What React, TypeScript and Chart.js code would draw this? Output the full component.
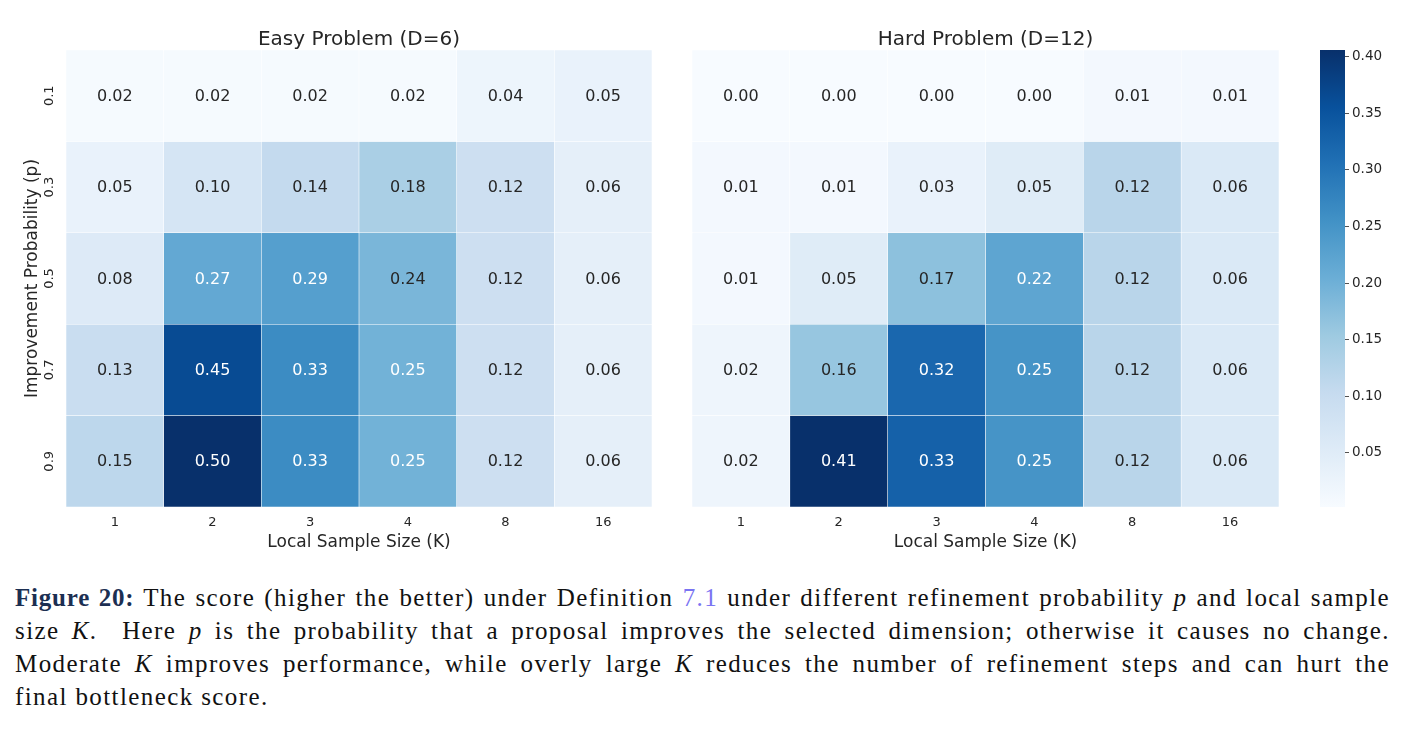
import React, { useEffect, useRef } from 'react';
import { Chart, registerables } from 'chart.js';

Chart.register(...registerables);
Chart.defaults.font.family = "'DejaVu Sans', sans-serif";

// ---------- data ----------
const kLabels = ['1', '2', '3', '4', '8', '16'];
const pLabels = ['0.1', '0.3', '0.5', '0.7', '0.9'];

const easyP01 = [0.02, 0.02, 0.02, 0.02, 0.04, 0.05];
const easyP03 = [0.05, 0.10, 0.14, 0.18, 0.12, 0.06];
const easyP05 = [0.08, 0.27, 0.29, 0.24, 0.12, 0.06];
const easyP07 = [0.13, 0.45, 0.33, 0.25, 0.12, 0.06];
const easyP09 = [0.15, 0.50, 0.33, 0.25, 0.12, 0.06];

const hardP01 = [0.00, 0.00, 0.00, 0.00, 0.01, 0.01];
const hardP03 = [0.01, 0.01, 0.03, 0.05, 0.12, 0.06];
const hardP05 = [0.01, 0.05, 0.17, 0.22, 0.12, 0.06];
const hardP07 = [0.02, 0.16, 0.32, 0.25, 0.12, 0.06];
const hardP09 = [0.02, 0.41, 0.33, 0.25, 0.12, 0.06];

const easyRange = [0.016, 0.5];
const hardRange = [0.002, 0.406];
const cbarTicks = [0.05, 0.10, 0.15, 0.20, 0.25, 0.30, 0.35, 0.40];

const easyRows = [easyP01, easyP03, easyP05, easyP07, easyP09];
const hardRows = [hardP01, hardP03, hardP05, hardP07, hardP09];

// ---------- colormap (matplotlib Blues) ----------
const BLUES = ['#f7fbff', '#deebf7', '#c6dbef', '#9ecae1', '#6baed6', '#4292c6', '#2171b5', '#08519c', '#08306b'];
const hexRgb = (h: string) => [1, 3, 5].map((i) => parseInt(h.slice(i, i + 2), 16));
function bluesRgb(t: number) {
  const tt = Math.max(0, Math.min(1, t));
  const s = tt * 8;
  const i = Math.min(7, Math.floor(s));
  const f = s - i;
  const a = hexRgb(BLUES[i]);
  const b = hexRgb(BLUES[i + 1]);
  return a.map((v, k) => Math.round(v + (b[k] - v) * f));
}
const rgbStr = (c: number[]) => `rgb(${c[0]},${c[1]},${c[2]})`;
function luminance(c: number[]) {
  const l = c.map((v) => {
    const x = v / 255;
    return x <= 0.03928 ? x / 12.92 : Math.pow((x + 0.055) / 1.055, 2.4);
  });
  return 0.2126 * l[0] + 0.7152 * l[1] + 0.0722 * l[2];
}

const TEXT = '#262626';

const cellTextPlugin = {
  id: 'cellText',
  afterDatasetsDraw(chart: any) {
    const rows: number[][] = chart.options.plugins.cellRows;
    const range: number[] = chart.options.plugins.cellRange;
    if (!rows) return;
    const ctx = chart.ctx;
    ctx.save();
    ctx.font = "16px 'DejaVu Sans'";
    ctx.textAlign = 'center';
    ctx.textBaseline = 'middle';
    rows.forEach((row, r) => {
      const meta = chart.getDatasetMeta(r);
      meta.data.forEach((el: any, c: number) => {
        const v = row[c];
        const col = bluesRgb((v - range[0]) / (range[1] - range[0]));
        ctx.fillStyle = luminance(col) > 0.408 ? TEXT : '#ffffff';
        const p = el.getCenterPoint();
        ctx.fillText(v.toFixed(2), p.x, p.y + 1);
      });
    });
    ctx.restore();
  },
};

function heatConfig(rows: number[][], range: number[], title: string, showY: boolean, padL: number, padR: number): any {
  const datasets = rows.map((row, r) => ({
    label: pLabels[r],
    data: row.map(() => [r, r + 1]),
    backgroundColor: row.map((v) => rgbStr(bluesRgb((v - range[0]) / (range[1] - range[0])))),
    borderColor: 'rgba(255,255,255,0.3)',
    borderWidth: 0.6,
    borderSkipped: false,
    barPercentage: 1,
    categoryPercentage: 1,
    grouped: false,
  }));
  return {
    type: 'bar',
    data: { labels: kLabels, datasets },
    plugins: [cellTextPlugin],
    options: {
      animation: false,
      responsive: false,
      devicePixelRatio: 1,
      layout: { padding: { left: padL, right: padR, top: 0, bottom: 0 } },
      plugins: {
        legend: { display: false },
        tooltip: { enabled: false },
        title: {
          display: true,
          text: title,
          fullSize: false,
          color: TEXT,
          font: { size: 20, weight: 'normal', family: "'DejaVu Sans'" },
          padding: { top: 28, bottom: -2 },
        },
        cellRows: rows,
        cellRange: range,
      },
      scales: {
        x: {
          type: 'category',
          offset: true,
          grid: { display: false, drawTicks: false },
          border: { display: false },
          ticks: { color: TEXT, font: { size: 13 }, padding: 8 },
          title: {
            display: true,
            text: 'Local Sample Size (K)',
            color: TEXT,
            font: { size: 17 },
            padding: { top: 0, bottom: 12 },
          },
          afterFit: (s: any) => { s.height = 58; },
        },
        y: {
          type: 'linear',
          min: 0,
          max: 5,
          reverse: true,
          display: showY,
          grid: { display: false, drawTicks: false },
          border: { display: false },
          afterBuildTicks: (s: any) => { s.ticks = pLabels.map((_, i) => ({ value: i + 0.5 })); },
          ticks: {
            color: TEXT,
            font: { size: 13 },
            minRotation: 90,
            maxRotation: 90,
            crossAlign: 'center',
            padding: 6,
            callback: (v: any) => pLabels[Math.floor(Number(v))],
          },
          title: {
            display: true,
            text: 'Improvement Probability (p)',
            color: TEXT,
            font: { size: 17 },
            padding: { top: 22, bottom: 0 },
          },
          afterFit: (s: any) => { s.width = showY ? 66 : 0; },
        },
      },
    },
  };
}

function cbarConfig(): any {
  return {
    type: 'bar',
    data: {
      labels: [''],
      datasets: [{
        data: [[hardRange[0], hardRange[1]]],
        backgroundColor: (ctx: any) => {
          const { chart } = ctx;
          const a = chart.chartArea;
          if (!a) return BLUES[4];
          const g = chart.ctx.createLinearGradient(0, a.bottom, 0, a.top);
          BLUES.forEach((c, i) => g.addColorStop(i / 8, c));
          return g;
        },
        borderWidth: 0,
        barPercentage: 1,
        categoryPercentage: 1,
      }],
    },
    options: {
      animation: false,
      responsive: false,
      devicePixelRatio: 1,
      layout: { padding: { left: 20, right: 0, top: 50, bottom: 58 } },
      plugins: { legend: { display: false }, tooltip: { enabled: false } },
      scales: {
        x: { display: false, offset: true },
        y: {
          position: 'right',
          min: hardRange[0],
          max: hardRange[1],
          border: { display: false },
          grid: { display: true, drawOnChartArea: false, drawTicks: true, tickLength: 4, tickColor: TEXT, tickWidth: 0.8 },
          afterBuildTicks: (s: any) => { s.ticks = cbarTicks.map((v) => ({ value: v })); },
          ticks: { color: TEXT, font: { size: 13.5 }, padding: 3, callback: (v: any) => Number(v).toFixed(2) },
          afterFit: (s: any) => { s.width = 66; },
        },
      },
    },
  };
}

function ChartBox({ make, left, width, height }: { make: () => any; left: number; width: number; height: number }) {
  const ref = useRef<HTMLCanvasElement>(null);
  useEffect(() => {
    const chart = new Chart(ref.current as HTMLCanvasElement, make());
    return () => chart.destroy();
  }, []);
  return (
    <div style={{ position: 'absolute', left, top: 0, width, height }}>
      <canvas ref={ref} width={width} height={height} style={{ width, height, display: 'block' }} />
    </div>
  );
}

const serif = "'Liberation Serif', 'Times New Roman', serif";
const lineStyle: React.CSSProperties = { textAlign: 'justify', textAlignLast: 'justify', whiteSpace: 'nowrap', height: 33 };
const boldStyle: React.CSSProperties = { color: '#1c2f52', letterSpacing: '0.8px', fontSize: 25 };

export default function App() {
  return (
    <div style={{ position: 'fixed', left: 0, top: 0, width: 1411, height: 736, background: '#ffffff', overflow: 'hidden' }}>
      <ChartBox make={() => heatConfig(easyRows, easyRange, 'Easy Problem (D=6)', true, 0, 8)} left={0} width={660} height={565} />
      <ChartBox make={() => heatConfig(hardRows, hardRange, 'Hard Problem (D=12)', false, 32, 11)} left={660} width={630} height={565} />
      <ChartBox make={cbarConfig} left={1300} width={111} height={565} />
      <div style={{ position: 'absolute', left: 15, top: 581, width: 1375, fontFamily: serif, fontSize: 25, letterSpacing: '1.4px', lineHeight: '33px', color: '#111' }}>
        <div style={lineStyle}>
          <b style={boldStyle}>Figure 20:</b> The score (higher the better) under Definition <span style={{ color: '#7a74f2' }}>7.1</span> under different refinement probability <i>p</i> and local sample
        </div>
        <div style={lineStyle}>
          size <i>K</i>.&nbsp; Here <i>p</i> is the probability that a proposal improves the selected dimension; otherwise it causes no change.
        </div>
        <div style={lineStyle}>
          Moderate <i>K</i> improves performance, while overly large <i>K</i> reduces the number of refinement steps and can hurt the
        </div>
        <div>final bottleneck score.</div>
      </div>
    </div>
  );
}
